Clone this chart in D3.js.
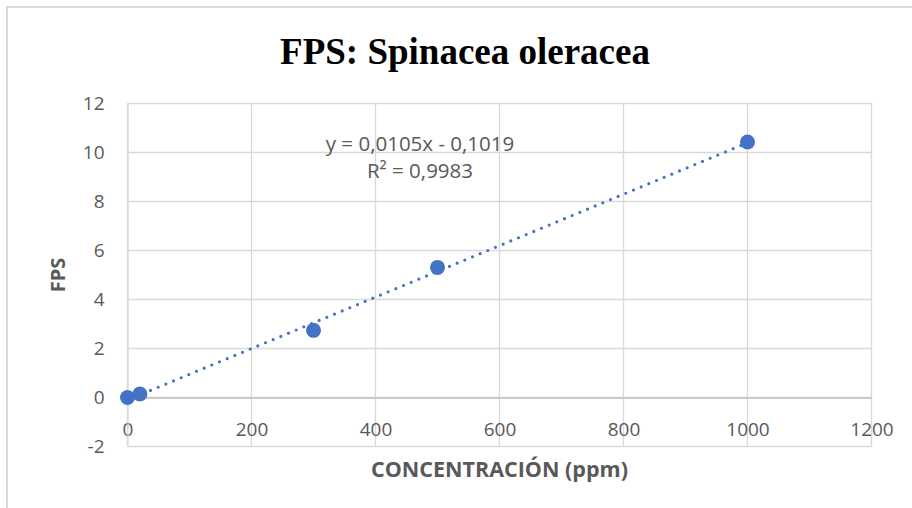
<!DOCTYPE html>
<html>
<head>
<meta charset="utf-8">
<script src="https://cdn.jsdelivr.net/npm/d3@7"></script>
<style>
  body { margin: 0; background: #fff; }
  svg { display: block; }
  .tick text { fill: #595959; font-family: "Open Sans", sans-serif; font-size: 19px; }
</style>
</head>
<body>
<div id="chart"></div>
<script>
// data
const concentracion = [0, 20, 300, 500, 1000]
const fps = [0, 0.14, 2.74, 5.31, 10.43]
const xTicks = [0, 200, 400, 600, 800, 1000, 1200]
const yTicks = [-2, 0, 2, 4, 6, 8, 10, 12]
// trendline coefficients, as printed on the chart
const slope = 0.0105
const intercept = -0.1019
const eqLines = ["y = 0,0105x - 0,1019", "R² = 0,9983"]

const width = 912
const height = 508
const margin = ({ top: 103.5, right: 40.5, bottom: 61.5, left: 127.5 })

const svg = d3.select("#chart")
    .append("svg")
    .attr("width", width)
    .attr("height", height)

// outer chart border (only left and top show in the crop)
svg.append("path")
    .attr("d", "M7,508 V7 H912")
    .attr("fill", "none")
    .attr("stroke", "#d9d9d9")
    .attr("stroke-width", 2)

const x = d3.scaleLinear()
    .domain([0, 1200])
    .range([margin.left, width - margin.right])

const y = d3.scaleLinear()
    .domain([-2, 12])
    .range([height - margin.bottom, margin.top])

// gridlines
svg.append("g")
    .selectAll("line.h")
    .data(yTicks)
    .enter().append("line")
    .attr("x1", x(0)).attr("x2", x(1200))
    .attr("y1", d => y(d)).attr("y2", d => y(d))
    .attr("stroke", "#d9d9d9")
    .attr("stroke-width", 1.3)

svg.append("g")
    .selectAll("line.v")
    .data(xTicks)
    .enter().append("line")
    .attr("x1", d => x(d)).attr("x2", d => x(d))
    .attr("y1", y(-2)).attr("y2", y(12))
    .attr("stroke", "#d9d9d9")
    .attr("stroke-width", 1.3)

// plain labels: no thousands separator, ascii minus
const fmt = d => String(d)

// axes: x axis crosses at y = 0, labels drawn below
const xAxis = g => g.attr("transform", `translate(0, ${y(0)})`)
    .call(d3.axisBottom(x).tickValues(xTicks).tickFormat(fmt).tickSize(0).tickPadding(25))
    .call(g => g.select(".domain").attr("stroke", "#bfbfbf").attr("stroke-width", 1.3))

const yAxis = g => g.attr("transform", `translate(${x(0)}, 0)`)
    .call(d3.axisLeft(y).tickValues(yTicks).tickFormat(fmt).tickSize(0).tickPadding(23))
    .call(g => g.select(".domain").attr("stroke", "#d9d9d9").attr("stroke-width", 1.3))

svg.append("g").call(xAxis)
svg.append("g").call(yAxis)

// trendline over the data range
const xExtent = d3.extent(concentracion)
const trend = xExtent.map(v => ({ x: v, y: slope * v + intercept }))
svg.append("path")
    .datum(trend)
    .attr("d", d3.line().x(d => x(d.x)).y(d => y(d.y)))
    .attr("fill", "none")
    .attr("stroke", "#4472c4")
    .attr("stroke-width", 3.2)
    .attr("stroke-linecap", "round")
    .attr("stroke-dasharray", "0,8.3")

// points
const data = concentracion.map((c, i) => ({ x: c, y: fps[i] }))
svg.append("g")
    .selectAll("circle")
    .data(data)
    .enter().append("circle")
    .attr("cx", d => x(d.x))
    .attr("cy", d => y(d.y))
    .attr("r", 7.5)
    .attr("fill", "#4472c4")

// equation label
svg.append("g")
    .selectAll("text")
    .data(eqLines)
    .enter().append("text")
    .attr("x", 420)
    .attr("y", (d, i) => 151 + i * 27)
    .attr("text-anchor", "middle")
    .attr("fill", "#595959")
    .style("font-family", "'Open Sans', sans-serif")
    .style("font-size", "20.5px")
    .text(d => d)

// title
svg.append("text")
    .attr("x", 465)
    .attr("y", 64)
    .attr("text-anchor", "middle")
    .attr("fill", "#000")
    .style("font-family", "'Liberation Serif', 'Times New Roman', serif")
    .style("font-weight", "bold")
    .style("font-size", "37px")
    .text("FPS: Spinacea oleracea")

// X axis label
svg.append("text")
    .attr("x", (x(0) + x(1200)) / 2)
    .attr("y", 477)
    .attr("text-anchor", "middle")
    .attr("fill", "#595959")
    .style("font-family", "'Open Sans', sans-serif")
    .style("font-weight", "bold")
    .style("font-size", "21.5px")
    .text("CONCENTRACIÓN (ppm)")

// Y axis label
svg.append("text")
    .attr("transform", `translate(65, ${(y(-2) + y(12)) / 2}) rotate(-90)`)
    .attr("text-anchor", "middle")
    .attr("fill", "#595959")
    .style("font-family", "'Open Sans', sans-serif")
    .style("font-weight", "bold")
    .style("font-size", "20px")
    .text("FPS")
</script>
</body>
</html>
